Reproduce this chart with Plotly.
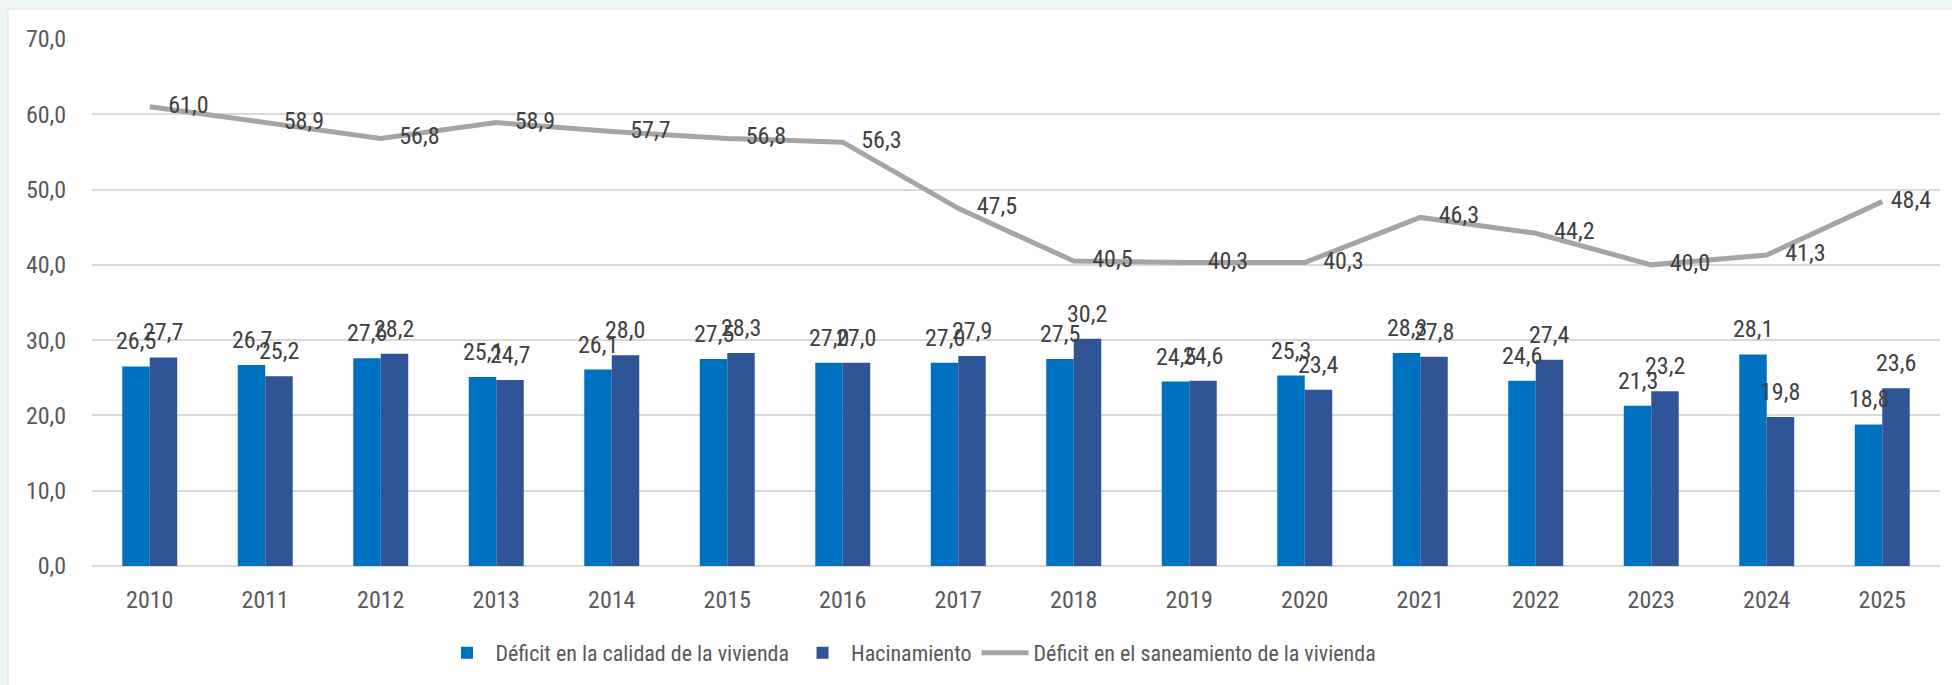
import plotly.graph_objects as go

years = ["2010", "2011", "2012", "2013", "2014", "2015", "2016", "2017",
         "2018", "2019", "2020", "2021", "2022", "2023", "2024", "2025"]
calidad = [26.5, 26.7, 27.6, 25.1, 26.1, 27.5, 27.0, 27.0,
           27.5, 24.5, 25.3, 28.3, 24.6, 21.3, 28.1, 18.8]
hacinamiento = [27.7, 25.2, 28.2, 24.7, 28.0, 28.3, 27.0, 27.9,
                30.2, 24.6, 23.4, 27.8, 27.4, 23.2, 19.8, 23.6]
saneamiento = [61.0, 58.9, 56.8, 58.9, 57.7, 56.8, 56.3, 47.5,
               40.5, 40.3, 40.3, 46.3, 44.2, 40.0, 41.3, 48.4]

names = ["Déficit en la calidad de la vivienda", "Hacinamiento",
         "Déficit en el saneamiento de la vivienda"]

FONT = "Roboto Condensed, Liberation Sans Narrow, Liberation Sans, sans-serif"
LBL = "#404040"
AX = "#595959"
NUM = 24

fig = go.Figure()
fig.add_trace(go.Bar(x=years, y=calidad, name=names[0], marker_color="#0070C0",
                     marker_line_width=0))
fig.add_trace(go.Bar(x=years, y=hacinamiento, name=names[1], marker_color="#2F5597",
                     marker_line_width=0))
msize = [28] * (len(years) - 1) + [12]
fig.add_trace(go.Scatter(x=years, y=saneamiento, name=names[2], mode="lines+markers+text",
                         line=dict(color="#A5A5A5", width=5),
                         marker=dict(size=msize, color="rgba(0,0,0,0)", opacity=0,
                                     line=dict(width=0, color="rgba(0,0,0,0)")),
                         text=saneamiento, texttemplate="%{y:.1f}",
                         textposition="middle right", cliponaxis=False,
                         textfont=dict(size=NUM, color=LBL, family=FONT)))

W, H = 1952, 685
L, R, T, B = 92, 1940, 39, 567
pw, ph = R - L, B - T
BARGAP = 0.524

def px(x):
    return (x - L) / pw

def py(y):
    return (B - y) / ph

def fmt(v):
    return f"{v:.1f}".replace(".", ",")

# bar value labels (Excel "outside end" style), placed over each bar
band = pw / len(years)
half = band * (1 - BARGAP) / 4
annotations = []
for series, sign in ((calidad, -1), (hacinamiento, 1)):
    for i, v in enumerate(series):
        annotations.append(dict(x=i, y=v, xref="x", yref="y", text=fmt(v),
                                showarrow=False, xshift=sign * half, yshift=25,
                                yanchor="middle", xanchor="center",
                                font=dict(size=NUM, color=LBL, family=FONT)))

fig.update_layout(
    width=W, height=H,
    margin=dict(l=L, r=W - R, t=T, b=H - B, pad=0),
    paper_bgcolor="#EEF6F3",
    plot_bgcolor="rgba(0,0,0,0)",
    separators=",.",
    barmode="group", bargap=BARGAP, bargroupgap=0,
    font=dict(family=FONT, size=22, color=AX),
    showlegend=True,
    legend=dict(orientation="h", x=px(910), xanchor="center", y=py(653), yanchor="middle",
                font=dict(size=22, color=AX, family=FONT), bgcolor="rgba(0,0,0,0)",
                traceorder="normal", itemwidth=47),
    xaxis=dict(type="category", range=[-0.5, 15.5], showgrid=False, showline=False,
               zeroline=False,
               ticks="outside", ticklen=12, tickcolor="rgba(0,0,0,0)",
               tickfont=dict(size=NUM, color=AX, family=FONT)),
    yaxis=dict(range=[0, 70], dtick=10, tickformat=".1f", showgrid=True,
               gridcolor="#D9D9D9", gridwidth=2, zeroline=True, zerolinecolor="#D9D9D9",
               zerolinewidth=2, showline=False,
               ticks="outside", ticklen=20, tickcolor="rgba(0,0,0,0)",
               tickfont=dict(size=NUM, color=AX, family=FONT)),
    annotations=annotations,
    shapes=[dict(type="rect", xref="paper", yref="paper", layer="below",
                 x0=px(8), x1=px(W + 5), y0=py(H + 5), y1=py(9),
                 fillcolor="white", line=dict(color="#DDE3E1", width=1))],
)

fig.write_html("out.html",
               config={"displayModeBar": False},
               post_script="document.body.style.margin='0';"
                           "document.body.style.overflow='hidden';")
